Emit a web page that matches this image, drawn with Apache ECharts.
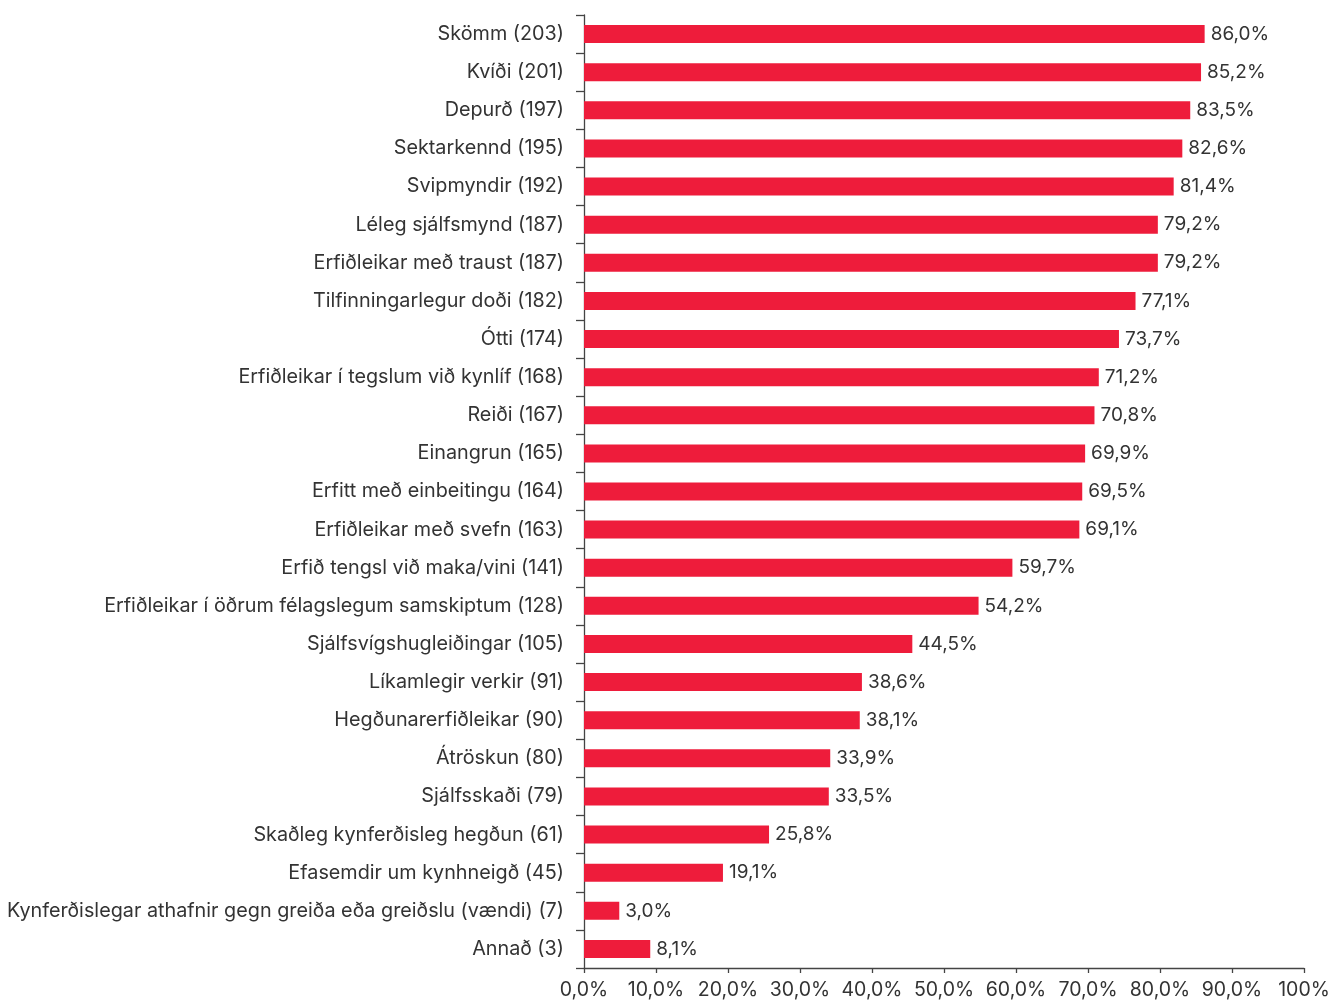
<!DOCTYPE html>
<html><head><meta charset="utf-8">
<script src="https://cdn.jsdelivr.net/npm/echarts@6/dist/echarts.min.js"></script>
<style>html,body{margin:0;padding:0;background:#fff}#c{width:1336px;height:1001px}</style>
</head><body><div id="c"></div>
<script>
const categories = [
  "Skömm (203)","Kvíði (201)","Depurð (197)","Sektarkennd (195)","Svipmyndir (192)",
  "Léleg sjálfsmynd (187)","Erfiðleikar með traust (187)","Tilfinningarlegur doði (182)","Ótti (174)",
  "Erfiðleikar í tegslum við kynlíf (168)","Reiði (167)","Einangrun (165)","Erfitt með einbeitingu (164)",
  "Erfiðleikar með svefn (163)","Erfið tengsl við maka/vini (141)","Erfiðleikar í öðrum félagslegum samskiptum (128)",
  "Sjálfsvígshugleiðingar (105)","Líkamlegir verkir (91)","Hegðunarerfiðleikar (90)","Átröskun (80)",
  "Sjálfsskaði (79)","Skaðleg kynferðisleg hegðun (61)","Efasemdir um kynhneigð (45)",
  "Kynferðislegar athafnir gegn greiða eða greiðslu (vændi) (7)","Annað (3)"
];
// bar lengths (%)
const values = [86.2,85.7,84.2,83.1,81.9,79.7,79.7,76.6,74.3,71.5,70.9,69.6,69.2,68.8,59.5,54.8,45.6,38.6,38.3,34.2,34.0,25.7,19.3,4.9,9.2];
// value labels as printed
const valueLabels = ["86,0%","85,2%","83,5%","82,6%","81,4%","79,2%","79,2%","77,1%","73,7%","71,2%","70,8%","69,9%","69,5%","69,1%","59,7%","54,2%","44,5%","38,6%","38,1%","33,9%","33,5%","25,8%","19,1%","3,0%","8,1%"];
const xTickLabels = ["0,0%","10,0%","20,0%","30,0%","40,0%","50,0%","60,0%","70,0%","80,0%","90,0%","100%"];

const FONT = 'Inter';
const TXT = '#333333';
const chart = echarts.init(document.getElementById('c'), null, {renderer:'canvas'});
chart.setOption({
  animation:false,
  grid:{left:584,right:32,top:15,bottom:33,containLabel:false},
  xAxis:{
    type:'value',min:0,max:100,interval:10,
    splitLine:{show:false},
    axisLine:{show:true,lineStyle:{color:'#444',width:1.3}},
    axisTick:{show:true,length:5,lineStyle:{color:'#444',width:1.3}},
    axisLabel:{color:TXT,fontFamily:FONT,fontSize:19.5,margin:12,
      formatter:(v)=>xTickLabels[Math.round(v/10)]}
  },
  yAxis:{
    type:'category',data:categories,inverse:true,
    axisLine:{show:true,lineStyle:{color:'#444',width:1.3}},
    axisTick:{show:true,length:8,lineStyle:{color:'#444',width:1.3}},
    axisLabel:{color:TXT,fontFamily:FONT,fontSize:19.8,margin:20,padding:[0,0,4,0]}
  },
  series:[{
    type:'bar',data:values,barWidth:18,
    itemStyle:{color:'#ee1c3b'},
    label:{show:true,position:'right',distance:6,color:TXT,fontFamily:FONT,fontSize:19,
      formatter:(p)=>valueLabels[p.dataIndex]}
  }]
});
</script></body></html>
